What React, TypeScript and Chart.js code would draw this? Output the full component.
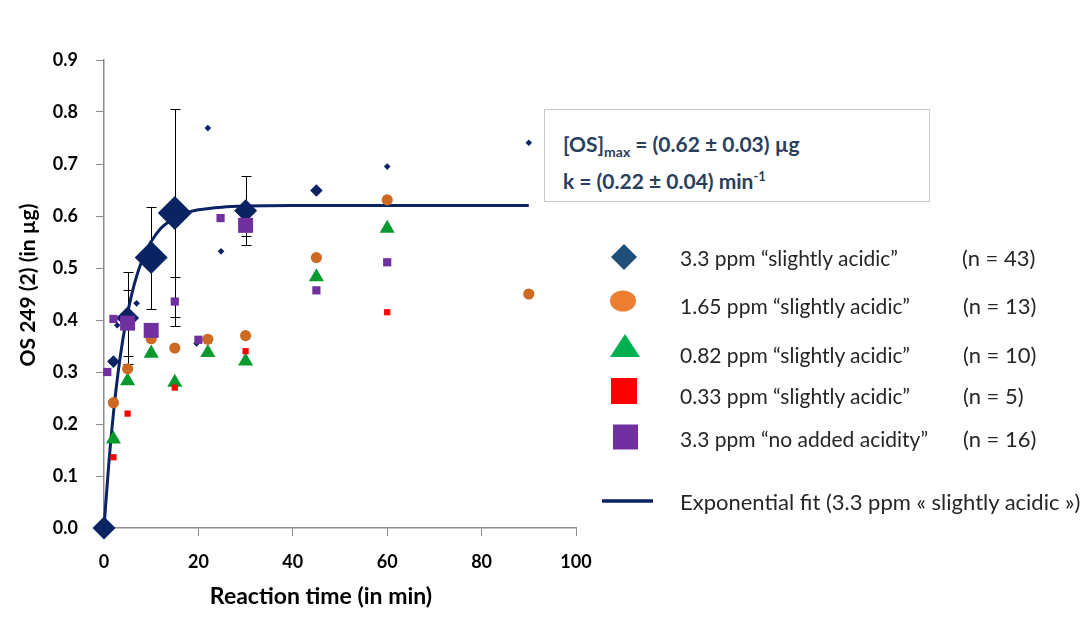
import React, { useEffect, useRef } from "react";
import { Chart, registerables } from "chart.js";

Chart.register(...registerables);

// ---------- data ----------
const xTickValues = [0, 20, 40, 60, 80, 100];

// 3.3 ppm "slightly acidic" — averaged points with standard deviation
const acidic33MeanX = [0, 5, 10, 15, 30];
const acidic33MeanY = [0.0, 0.404, 0.52, 0.606, 0.61];
const acidic33MeanErr = [0, 0.088, 0.098, 0.2, 0.066];
// 3.3 ppm "slightly acidic" — duplicate points
const acidic33MidX = [2, 45];
const acidic33MidY = [0.32, 0.649];
// 3.3 ppm "slightly acidic" — single points
const acidic33SingleX = [2.8, 6.9, 19.6, 22, 24.8, 60, 90];
const acidic33SingleY = [0.39, 0.432, 0.355, 0.769, 0.532, 0.695, 0.741];

// 1.65 ppm "slightly acidic"
const acidic165X = [2, 5, 10, 15, 22, 30, 45, 60, 90];
const acidic165Y = [0.241, 0.306, 0.364, 0.346, 0.363, 0.37, 0.52, 0.631, 0.45];

// 0.82 ppm "slightly acidic"
const acidic082X = [2, 5, 10, 15, 22, 30, 45, 60];
const acidic082Y = [0.171, 0.283, 0.336, 0.28, 0.337, 0.321, 0.483, 0.576];

// 0.33 ppm "slightly acidic"
const acidic033X = [2, 5, 15, 30, 60];
const acidic033Y = [0.136, 0.22, 0.27, 0.34, 0.415];

// 3.3 ppm "no added acidity" — averaged points
const noAcidMeanX = [5, 10, 30];
const noAcidMeanY = [0.394, 0.38, 0.582];
const noAcidMeanErr = [0.063, 0, 0.02];
// 3.3 ppm "no added acidity" — single points
const noAcidSingleX = [0.7, 2, 15, 20, 24.7, 45, 60];
const noAcidSingleY = [0.3, 0.402, 0.4355, 0.362, 0.596, 0.457, 0.511];
const noAcidSingleErr = [0, 0, 0.047, 0, 0, 0, 0];

// Exponential fit curve (3.3 ppm "slightly acidic")
const fitX = [0, 1, 2, 3, 4, 5, 6, 7, 8, 9, 10, 12, 14, 16, 18, 20, 25, 30, 40, 50, 60, 70, 80, 90];
const fitY = [0, 0.122, 0.221, 0.3, 0.363, 0.413, 0.454, 0.487, 0.513, 0.534, 0.551, 0.576, 0.591, 0.602, 0.608, 0.612, 0.617, 0.619, 0.62, 0.62, 0.62, 0.62, 0.62, 0.62];

const zip = (xs: number[], ys: number[]) => xs.map((x, i) => ({ x, y: ys[i] }));

// ---------- styles ----------
const FONT = "Lato, 'Open Sans', sans-serif";
const NAVY = "#0A2362";
const ORANGE = "#CC6A24";
const GREEN = "#08992F";
const RED = "#FF0000";
const PURPLE = "#7030A0";
const AXIS = "#8C8C8C";

const errorBarPlugin = {
  id: "errorBars",
  beforeDatasetsDraw(chart: any) {
    const ctx = chart.ctx;
    const ys = chart.scales.y;
    chart.data.datasets.forEach((ds: any, i: number) => {
      const errs: number[] | undefined = ds.errorBars;
      if (!errs) return;
      const meta = chart.getDatasetMeta(i);
      ctx.save();
      ctx.strokeStyle = "#000";
      ctx.lineWidth = 1;
      meta.data.forEach((pt: any, j: number) => {
        const e = errs[j];
        if (!e) return;
        const raw = ds.data[j];
        const x = Math.round(pt.x) + 0.5;
        const yTop = Math.round(ys.getPixelForValue(raw.y + e)) + 0.5;
        const yBot = Math.round(ys.getPixelForValue(raw.y - e)) + 0.5;
        ctx.beginPath();
        ctx.moveTo(x, yTop);
        ctx.lineTo(x, yBot);
        ctx.moveTo(x - 5, yTop);
        ctx.lineTo(x + 5, yTop);
        ctx.moveTo(x - 5, yBot);
        ctx.lineTo(x + 5, yBot);
        ctx.stroke();
      });
      ctx.restore();
    });
  },
};

const axisTitlePlugin = {
  id: "axisTitles",
  afterDraw(chart: any) {
    const ctx = chart.ctx;
    ctx.save();
    ctx.fillStyle = "#000";
    ctx.textAlign = "center";
    ctx.textBaseline = "middle";
    ctx.font = `bold 21px ${FONT}`;
    ctx.translate(28, 285);
    ctx.rotate(-Math.PI / 2);
    ctx.fillText("OS 249 (2) (in µg)", 0, 0);
    ctx.restore();
    ctx.save();
    ctx.fillStyle = "#000";
    ctx.textAlign = "center";
    ctx.textBaseline = "middle";
    ctx.font = `bold 23px ${FONT}`;
    ctx.fillText("Reaction time (in min)", 321, 597);
    ctx.restore();
  },
};

function ChartCanvas() {
  const ref = useRef<HTMLCanvasElement | null>(null);
  useEffect(() => {
    if (!ref.current) return;
    const chart = new Chart(ref.current, {
      type: "scatter",
      data: {
        datasets: [
          {
            label: "3.3 ppm no added acidity (mean)",
            data: zip(noAcidMeanX, noAcidMeanY),
            errorBars: noAcidMeanErr,
            pointStyle: "rect",
            pointRadius: 10.6,
            backgroundColor: PURPLE,
            borderWidth: 0,
          } as any,
          {
            label: "3.3 ppm no added acidity",
            data: zip(noAcidSingleX, noAcidSingleY),
            errorBars: noAcidSingleErr,
            pointStyle: "rect",
            pointRadius: 5.8,
            backgroundColor: PURPLE,
            borderWidth: 0,
          } as any,
          {
            label: "0.33 ppm",
            data: zip(acidic033X, acidic033Y),
            pointStyle: "rect",
            pointRadius: 4.4,
            backgroundColor: RED,
            borderWidth: 0,
          },
          {
            label: "1.65 ppm",
            data: zip(acidic165X, acidic165Y),
            pointStyle: "circle",
            pointRadius: 5.6,
            backgroundColor: ORANGE,
            borderWidth: 0,
          },
          {
            label: "0.82 ppm",
            data: zip(acidic082X, acidic082Y),
            pointStyle: "triangle",
            pointRadius: 8.7,
            backgroundColor: GREEN,
            borderWidth: 0,
          },
          {
            label: "3.3 ppm single",
            data: zip(acidic33SingleX, acidic33SingleY),
            pointStyle: "rectRot",
            pointRadius: 3.3,
            backgroundColor: NAVY,
            borderWidth: 0,
          },
          {
            label: "3.3 ppm duplicate",
            data: zip(acidic33MidX, acidic33MidY),
            pointStyle: "rectRot",
            pointRadius: 6.3,
            backgroundColor: NAVY,
            borderWidth: 0,
          },
          {
            label: "3.3 ppm mean",
            data: zip(acidic33MeanX, acidic33MeanY),
            errorBars: acidic33MeanErr,
            pointStyle: "rectRot",
            pointRadius: [11.5, 11.5, 16.5, 17, 11.5],
            backgroundColor: NAVY,
            borderWidth: 0,
          } as any,
          {
            label: "Exponential fit",
            data: zip(fitX, fitY),
            showLine: true,
            pointRadius: 0,
            borderColor: NAVY,
            borderWidth: 3,
            cubicInterpolationMode: "monotone",
            fill: false,
          },
        ],
      },
      options: {
        responsive: false,
        animation: false,
        devicePixelRatio: 1,
        clip: false as any,
        layout: { padding: { top: 60, right: 515, bottom: 0, left: 0 } },
        plugins: {
          legend: { display: false },
          tooltip: { enabled: false },
        },
        scales: {
          x: {
            type: "linear",
            min: 0,
            max: 100,
            afterBuildTicks: (s: any) => {
              s.ticks = xTickValues.map((v) => ({ value: v }));
            },
            afterFit: (s: any) => {
              s.height = 94;
            },
            grid: {
              display: true,
              drawOnChartArea: false,
              drawTicks: true,
              tickLength: 8,
              color: AXIS,
              lineWidth: 1,
            },
            border: { display: true, color: AXIS, width: 1.5 },
            ticks: {
              color: "#000",
              font: { family: FONT, size: 18, weight: "bold" },
              padding: 15,
              maxRotation: 0,
            },
          },
          y: {
            type: "linear",
            min: 0,
            max: 0.9,
            ticks: {
              stepSize: 0.1,
              color: "#000",
              font: { family: FONT, size: 18, weight: "bold" },
              padding: 18,
              callback: (v: any) => Number(v).toFixed(1),
            },
            afterFit: (s: any) => {
              s.width = 104;
            },
            grid: {
              display: true,
              drawOnChartArea: false,
              drawTicks: true,
              tickLength: 8,
              color: AXIS,
              lineWidth: 1,
            },
            border: { display: true, color: AXIS, width: 1.5 },
          },
        },
      },
      plugins: [errorBarPlugin, axisTitlePlugin],
    } as any);
    return () => chart.destroy();
  }, []);
  return <canvas ref={ref} width={1091} height={622} style={{ position: "absolute", left: 0, top: 0 }} />;
}

const legendText: React.CSSProperties = {
  position: "absolute",
  fontFamily: FONT,
  fontSize: 21,
  color: "#262626",
  whiteSpace: "pre",
  lineHeight: "26px",
};

function LegendRow({ cy, label, n, nx }: { cy: number; label: string; n: string; nx: number }) {
  return (
    <>
      <div style={{ ...legendText, left: 680, top: cy - 13 }}>{label}</div>
      <div style={{ ...legendText, fontSize: 22, left: nx, top: cy - 13 }}>{n}</div>
    </>
  );
}

const annText: React.CSSProperties = {
  position: "absolute",
  left: 563,
  fontFamily: FONT,
  fontWeight: 700,
  fontSize: 21,
  color: "#2A3F5E",
  whiteSpace: "pre",
  lineHeight: "26px",
};

export default function App() {
  return (
    <div style={{ position: "absolute", left: 0, top: 0, width: 1091, height: 622, background: "#fff", overflow: "hidden" }}>
      <ChartCanvas />
      {/* annotation box */}
      <div
        style={{
          position: "absolute",
          left: 544,
          top: 109,
          width: 386,
          height: 93,
          border: "1.5px solid #C8C8C8",
          boxSizing: "border-box",
          background: "#fff",
        }}
      />
      <div style={{ ...annText, top: 131 }}>
        [OS]<sub style={{ fontSize: 14, verticalAlign: "-5px", lineHeight: 0 }}>max</sub> = (0.62 ± 0.03) µg
      </div>
      <div style={{ ...annText, top: 168 }}>
        k = (0.22 ± 0.04) min<sup style={{ fontSize: 13, verticalAlign: "8px", lineHeight: 0 }}>-1</sup>
      </div>
      {/* legend markers */}
      <svg width={1091} height={622} style={{ position: "absolute", left: 0, top: 0 }}>
        <polygon points="611,257 624,244 637,257 624,270" fill="#1F4E79" />
        <ellipse cx={623} cy={301} rx={13} ry={10.5} fill="#ED7D31" />
        <polygon points="610,357 640,357 625,334" fill="#00B050" />
        <rect x={611} y={378} width={26} height={26} fill="#FF0000" />
        <rect x={613} y={424.5} width={25} height={25} fill="#7030A0" />
        <line x1={602} y1={501} x2={653} y2={501} stroke="#0A2362" strokeWidth={3.5} />
      </svg>
      <LegendRow cy={258} label={"3.3 ppm “slightly acidic”"} n="(n = 43)" nx={962} />
      <LegendRow cy={306} label={"1.65 ppm “slightly acidic”"} n="(n = 13)" nx={963} />
      <LegendRow cy={355} label={"0.82 ppm “slightly acidic”"} n="(n = 10)" nx={963} />
      <LegendRow cy={396} label={"0.33 ppm “slightly acidic”"} n="(n = 5)" nx={963} />
      <LegendRow cy={439} label={"3.3 ppm “no added acidity”"} n="(n = 16)" nx={963} />
      <div style={{ ...legendText, fontSize: 22, left: 680, top: 489 }}>{"Exponential fit (3.3 ppm « slightly acidic »)"}</div>
    </div>
  );
}
